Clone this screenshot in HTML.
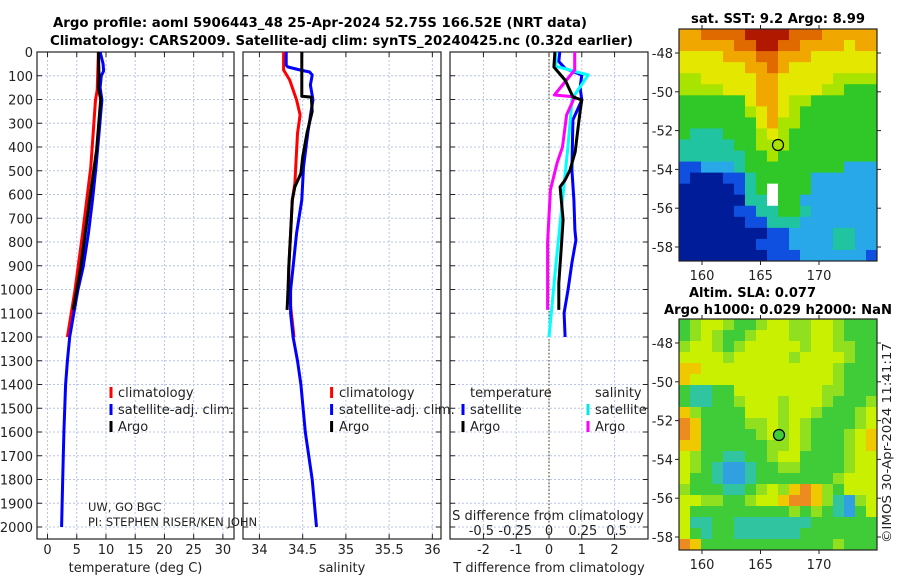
<!DOCTYPE html>
<html><head><meta charset="utf-8"><style>
html,body{margin:0;padding:0;background:#fff;}
svg text{font-family:"DejaVu Sans","Liberation Sans",sans-serif;fill:#222;}
.b{font-weight:bold;fill:#000;}
</style></head>
<body>
<svg id="fig" width="900" height="580" viewBox="0 0 900 580" xmlns="http://www.w3.org/2000/svg">
<text class="b" x="53" y="27" font-size="13" textLength="534" lengthAdjust="spacingAndGlyphs">Argo profile: aoml 5906443_48 25-Apr-2024 52.75S 166.52E (NRT data)</text>
<text class="b" x="50" y="45" font-size="13" textLength="583" lengthAdjust="spacingAndGlyphs">Climatology: CARS2009. Satellite-adj clim: synTS_20240425.nc (0.32d earlier)</text>
<text class="b" x="691" y="23" font-size="13" textLength="174" lengthAdjust="spacingAndGlyphs">sat. SST: 9.2 Argo: 8.99</text>
<text class="b" x="689" y="297" font-size="13" textLength="127" lengthAdjust="spacingAndGlyphs">Altim. SLA: 0.077</text>
<text class="b" x="664" y="314" font-size="13" textLength="228" lengthAdjust="spacingAndGlyphs">Argo h1000: 0.029 h2000: NaN</text>
<text font-size="12" transform="translate(891,543) rotate(-90)" textLength="200" lengthAdjust="spacingAndGlyphs">©IMOS 30-Apr-2024 11:41:17</text>
<g id="g"></g>
</svg>
<script>
// ---- depth axis ----
const depthTicks = [0,100,200,300,400,500,600,700,800,900,1000,1100,1200,1300,1400,1500,1600,1700,1800,1900,2000];
// ---- temperature panel ----
const tempTicks = [0,5,10,15,20,25,30];
const tClimDepth = [0,160,202,484,764,1002,1200];
const tClimVal   = [8.7,8.5,8.2,7.4,6.0,4.7,3.4];
const tSatDepth  = [0,50,80,100,150,202,343,484,623,764,905,1002,1100,1200,1300,1400,1600,1800,2000];
const tSatVal    = [9.0,9.5,9.6,9.2,9.0,9.3,8.8,8.3,7.7,7.0,6.1,5.2,4.5,3.8,3.4,3.1,2.8,2.6,2.4];
const tArgoDepth = [0,100,150,200,412,623,905,1002,1086];
const tArgoVal   = [8.7,8.8,8.7,9.1,8.4,7.2,5.7,5.0,4.4];
// ---- salinity panel ----
const salTicks = [34,34.5,35,35.5,36];
const sClimDepth = [0,76,118,202,265,343,552,623,764,905,1002,1100,1200];
const sClimVal   = [34.28,34.28,34.35,34.43,34.47,34.44,34.41,34.38,34.36,34.34,34.34,34.37,34.40];
const sSatDepth  = [0,55,63,76,84,97,139,202,244,341,484,623,762,905,1002,1100,1200,1300,1400,1600,1800,2000];
const sSatVal    = [34.31,34.31,34.33,34.47,34.58,34.61,34.59,34.62,34.6,34.56,34.51,34.49,34.43,34.39,34.36,34.36,34.39,34.44,34.48,34.53,34.61,34.66];
const sArgoDepth = [0,186,190,250,341,442,511,567,623,764,905,1002,1086];
const sArgoVal   = [34.49,34.49,34.6,34.61,34.55,34.5,34.48,34.41,34.38,34.36,34.34,34.33,34.32];
// ---- difference panel ----
const dTTicks = [-2,-1,0,1,2];
const dSTicks = [-0.5,-0.25,0,0.25,0.5];
const dSTickLabels = ["-0.5","-0.25","0","0.25","0.5"];
const dTSatDepth = [0,40,70,97,150,202,286,497,623,749,792,888,1002,1099,1200];
const dTSatVal   = [0.33,0.3,0.5,1.0,0.95,1.0,0.73,0.7,0.76,0.79,0.82,0.7,0.58,0.46,0.49];
const dTArgoDepth = [0,63,120,189,202,250,328,420,497,539,568,707,834,973,1086];
const dTArgoVal   = [0.18,0.15,0.5,0.73,1.0,0.95,0.88,0.8,0.64,0.49,0.34,0.43,0.37,0.3,0.3];
const dSSatDepth = [0,60,97,189,202,400,623,900,1200];
const dSSatVal   = [0.05,0.05,0.29,0.18,0.17,0.14,0.10,0.05,0.0];
const dSArgoDepth = [0,76,181,189,265,400,467,581,800,1086];
const dSArgoVal   = [0.19,0.19,0.04,0.19,0.13,0.1,0.06,0.01,-0.01,-0.01];
// ---- maps ----
const latTicks = [-48,-50,-52,-54,-56,-58];
const lonTicks = [160,165,170];
const sstGrid = [
"AAOOOORRRROOOAAAAA","AAAAAOORROOAAAAYAA","YYYYAAAOOAAAYYYYYY","YYYYYYAAOAYYYYYYYY",
"LLYYYYYAAYYYYYLLLL","LLLLYYYAAYYYYLLGGG","GGGGGGYAAYLLGGGGGG","GGGGGGLYAYLGGGGGGG",
"GGGGGGGYALLGGGGGGG","GTTTGGGLYLGGGGGGGG","TTTTTGGLLLGGGGGGGG","TTTTTTGGLGGGGGGGGG",
"BBCCCTGGGGGGGGGCCC","BNNNBBTGGGGGCCCCCC","NNNNNBTGWGGGCCCCCC","NNNNNNTTWGGCCCCCCC",
"NNNNNBBTTGGTCCCCCC","NNNNNNBBTTTCCCCCCC","NNNNNNNNBBCCCCTTCC","NNNNNNNBBBCCCCTTCC",
"NNNNNNNNBBBCCCCCCB"];
const slaGrid = [
"GLYYLGGLYYLLYYLGGG","GLYLGGLYYYLLYYLGGG","LYYLGLYYYYYLYYLLGG","YYYYLYYYYYLYYYYLGG",
"AAYYYYYYYYYYYYLGGG","AYYYYYYYYYYYYYLGGG","GTTGGYYYYYYYYLLGGG","GTTGGLYYYLYYYLGGGL",
"ALGGGGYYYLYYLGGGLY","OAGGGGLLYLYLGGGGLY","OAGGGGGLYLYLGGGLYA","AAGGGGGGLLYLGGGLYA",
"YLGGTTGGLYYGGGGLYY","YLGTCCTGGLLGGGGLYY","YGGTCCTGGGGGGGLYYY","LGGGTTGLYLAOALGYYY",
"YYLLGGLYYAOOALTCLY","YGGGGGGGGGLGLGTCGY","YTTGGTTTTTTTGGGGGG","YGTGGTTTTTTGGGGGGG",
"OAGGGGGGGGGGGGLGGG"];

const NS='http://www.w3.org/2000/svg';
const G=document.getElementById('g');
function mk(tag,attrs,parent){const e=document.createElementNS(NS,tag);for(const k in attrs)e.setAttribute(k,attrs[k]);(parent||G).appendChild(e);return e;}
const Y0=52, YS=0.2375; // px per metre
function yD(d){return Y0+d*YS;}
const TOP=52, BOT=539;

function panel(name,L,R,xmin,xmax,ticks,labels,xlabel,gridColorZero){
  const xs=v=>L+(v-xmin)/(xmax-xmin)*(R-L);
  const grp=mk('g',{});
  
  
  depthTicks.forEach(d=>{
    const l=mk('line',{x1:L,x2:R,y1:yD(d),y2:yD(d),stroke:'#b8c4ee','stroke-width':1,'stroke-dasharray':'2,2'},grp);
    
    
    mk('line',{x1:L,x2:L+5,y1:yD(d),y2:yD(d),stroke:'#222'},grp);
    mk('line',{x1:R-5,x2:R,y1:yD(d),y2:yD(d),stroke:'#222'},grp);
  });
  ticks.forEach((t,i)=>{
    const x=xs(t);
    const l=mk('line',{x1:x,x2:x,y1:TOP,y2:BOT,stroke:'#b8c4ee','stroke-width':1,'stroke-dasharray':'2,2'},grp);
    
    
    mk('line',{x1:x,x2:x,y1:BOT-5,y2:BOT,stroke:'#222'},grp);
    mk('line',{x1:x,x2:x,y1:TOP,y2:TOP+5,stroke:'#222'},grp);
    const tx=mk('text',{x:x,y:554,'font-size':13,'text-anchor':'middle'},grp);
    tx.textContent=labels?labels[i]:String(t);
    
    
  });
  const r=mk('rect',{x:L,y:TOP,width:R-L,height:BOT-TOP,fill:'none',stroke:'#222','stroke-width':1.2},grp);
  
  
  const xl=mk('text',{x:(L+R)/2,y:572,'font-size':13,'text-anchor':'middle'},grp);
  xl.textContent=xlabel;
  
  
  return xs;
}
function series(name,xs,depths,vals,color){
  const pts=depths.map((d,i)=>xs(vals[i]).toFixed(1)+','+yD(d).toFixed(1)).join(' ');
  const p=mk('polyline',{points:pts,fill:'none',stroke:color,'stroke-width':3,'stroke-linejoin':'round'});
  
  
}
function txt(name,x,y,s,size,anchor){
  const t=mk('text',{x:x,y:y,'font-size':size||13,'text-anchor':anchor||'start'});
  t.textContent=s;
  
  
  return t;
}
function legendEntry(name,mx,tx,y,color,label){
  const m=mk('rect',{x:mx-1.5,y:y-10,width:3,height:11,fill:color});
  
  
  txt(name,tx,y,label,13);
}

// depth labels
depthTicks.forEach(d=>{ txt('y-tick-label',33,yD(d)+5,String(d),13,'end'); });

// Temperature panel
const xT=panel('temperature',37,234,-1.8,31.9,tempTicks,null,'temperature (deg C)');
series('temp-climatology-line',xT,tClimDepth,tClimVal,'#ff0000');
series('temp-satellite-line',xT,tSatDepth,tSatVal,'#0000ff');
series('temp-argo-line',xT,tArgoDepth,tArgoVal,'#000000');
legendEntry('legend-climatology',111,118,397,'#ff0000','climatology');
legendEntry('legend-satellite-adj',111,118,414,'#0000ff','satellite-adj. clim.');
legendEntry('legend-argo',111,118,431,'#000000','Argo');
txt('institution-label',88,511,'UW, GO BGC',11.5);
txt('pi-label',88,526,'PI: STEPHEN RISER/KEN JOHN',11.5);

// Salinity panel
const xS=panel('salinity',243,441,33.81,36.1,salTicks,null,'salinity');
series('sal-climatology-line',xS,sClimDepth,sClimVal,'#ff0000');
series('sal-satellite-line',xS,sSatDepth,sSatVal,'#0000ff');
series('sal-argo-line',xS,sArgoDepth,sArgoVal,'#000000');
legendEntry('legend-sal-climatology',331.6,339,397,'#ff0000','climatology');
legendEntry('legend-sal-satellite-adj',331.6,339,414,'#0000ff','satellite-adj. clim.');
legendEntry('legend-sal-argo',331.6,339,431,'#000000','Argo');

// Difference panel
const xDT=panel('difference',450,648,-3.02,3.02,dTTicks,null,'T difference from climatology');
const xDS=v=>549+v*135.2;
const zl=mk('line',{x1:549,x2:549,y1:TOP,y2:BOT,stroke:'#5a5a2a','stroke-width':1.2,'stroke-dasharray':'1.5,2'});


series('dT-satellite-line',xDT,dTSatDepth,dTSatVal,'#0000ff');
series('dS-satellite-line',xDS,dSSatDepth,dSSatVal,'#00ffff');
series('dS-argo-line',xDS,dSArgoDepth,dSArgoVal,'#ff00ff');
series('dT-argo-line',xDT,dTArgoDepth,dTArgoVal,'#000000');
txt('legend-temperature-heading',470,397,'temperature',13);
txt('legend-salinity-heading',595,397,'salinity',13);
legendEntry('legend-dT-satellite',463,470,414,'#0000ff','satellite');
legendEntry('legend-dT-argo',463,470,431,'#000000','Argo');
legendEntry('legend-dS-satellite',588,595,414,'#00e8e8','satellite');
legendEntry('legend-dS-argo',588,595,431,'#ff00ff','Argo');
txt('s-axis-title',548,520,'S difference from climatology',13,'middle');
dSTicks.forEach((v,i)=>{ txt('s-tick-label',xDS(v),535,dSTickLabels[i],13,'middle'); });

// Maps
const sstCol={R:'#b01800',O:'#e06a00',A:'#f0a800',Y:'#e4e800',L:'#a8e400',G:'#30c828',T:'#20c4a0',C:'#28a8e8',B:'#1050e0',N:'#001c98',W:'#ffffff'};
const slaCol={Y:'#c8f000',L:'#90e020',G:'#40cc38',A:'#f0c800',O:'#ec8c20',T:'#30c4a0',C:'#30a0e0'};
function map(name,grid,cols,L,T,W,H,lat0y,latStep){
  const grp=mk('g',{});
  
  
  const cw=W/grid[0].length, ch=H/grid.length;
  grid.forEach((row,j)=>{for(let i=0;i<row.length;i++){
    mk('rect',{x:(L+i*cw).toFixed(2),y:(T+j*ch).toFixed(2),width:(cw+0.5).toFixed(2),height:(ch+0.5).toFixed(2),fill:cols[row[i]]},grp);
  }});
  const fr=mk('rect',{x:L,y:T,width:W,height:H,fill:'none',stroke:'#222','stroke-width':1.2},grp);
  
  
  latTicks.forEach((v,i)=>{
    const y=lat0y+i*latStep;
    mk('line',{x1:L-4,x2:L,y1:y,y2:y,stroke:'#222'},grp);
    mk('line',{x1:L+W,x2:L+W+4,y1:y,y2:y,stroke:'#222'},grp);
    txt(name+'-lat-label',673,y+5,String(v),13,'end');
  });
  lonTicks.forEach((v,i)=>{
    const x=702+(v-160)*11.7;
    mk('line',{x1:x,x2:x,y1:T+H,y2:T+H+4,stroke:'#222'},grp);
    mk('line',{x1:x,x2:x,y1:T-4,y2:T,stroke:'#222'},grp);
    txt(name+'-lon-label',x,T+H+19,String(v),13,'middle');
  });
}
map('sst-map',sstGrid,sstCol,679,29,198,232,53,38.8);
map('sla-map',slaGrid,slaCol,679,319,198,231,343,38.8);
const c1=mk('circle',{cx:778,cy:145,r:5.5,fill:'none',stroke:'#000','stroke-width':1.2});


const c2=mk('circle',{cx:779,cy:435,r:5.5,fill:'#40cc38',stroke:'#000','stroke-width':1.2});


</script>
</body></html>
